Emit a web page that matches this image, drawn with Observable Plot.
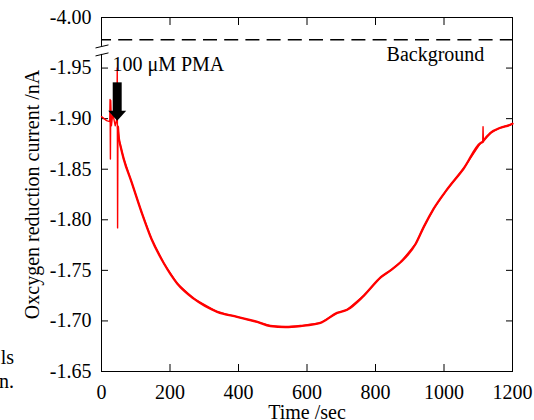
<!DOCTYPE html>
<html>
<head>
<meta charset="utf-8">
<script src="https://cdn.jsdelivr.net/npm/d3@7"></script>
<script src="https://cdn.jsdelivr.net/npm/@observablehq/plot@0.6"></script>
<style>
  html, body { margin: 0; padding: 0; background: white; }
</style>
</head>
<body>
<div id="chart"></div>
<script>
// ---- data ----
const times = [0, 15, 24, 25, 26, 27, 29, 33, 40, 45,
  46, 47, 48, 50.5, 55.5, 65, 87.6, 116.8, 146, 182,
  221, 269.5, 338, 396, 455, 493, 537, 581, 639, 688,
  717, 766, 815, 844, 873, 917, 941, 970, 1009, 1058,
  1107, 1113, 1114, 1115, 1136, 1165, 1194, 1200];
const currents = [-1.902, -1.898, -1.897, -1.919, -1.860, -1.918, -1.893, -1.905, -1.893, -1.900,
  -1.950, -1.792, -1.892, -1.881, -1.873, -1.860, -1.8375, -1.8077, -1.781, -1.757,
  -1.737, -1.722, -1.709, -1.704, -1.699, -1.695, -1.694, -1.695, -1.698, -1.708,
  -1.711, -1.725, -1.743, -1.750, -1.758, -1.776, -1.793, -1.811, -1.830, -1.851,
  -1.876, -1.877, -1.892, -1.878, -1.886, -1.891, -1.894, -1.895];
const spikeIndices = [42];
const noiseEnd = 48; // seconds: before this the trace is the thin noisy part

const backgroundLevel = [-1.978];
const xTicks = [0, 200, 400, 600, 800, 1000, 1200];
const yTicks = [-2.00, -1.95, -1.90, -1.85, -1.80, -1.75, -1.70, -1.65];
const yTickLabels = ["-4.00", "-1.95", "-1.90", "-1.85", "-1.80", "-1.75", "-1.70", "-1.65"];

// annotation: 100 µM PMA addition arrow
const arrowTime = 47.3;
const arrowTail = -1.9354, arrowHeadBase = -1.9072, arrowTip = -1.8973;
const shaftHalf = 13.1, headHalf = 26.3;

// axis break on the y axis
const breakLow = -1.9635, breakHigh = -1.9714;

const data = times.map((t, i) => ({t, v: currents[i], spike: spikeIndices.includes(i)}));
const smooth = data.filter(d => d.t >= noiseEnd && !d.spike);

const headData = [
  {t: arrowTime - headHalf, y1: arrowHeadBase, y2: arrowHeadBase},
  {t: arrowTime, y1: arrowHeadBase, y2: arrowTip},
  {t: arrowTime + headHalf, y1: arrowHeadBase, y2: arrowHeadBase}
];
const breakMarks = [
  {x1: -17.5, x2: 20.4, y1: breakLow + 0.0015, y2: breakLow - 0.0015},
  {x1: -17.5, x2: 20.4, y1: breakHigh + 0.0015, y2: breakHigh - 0.0015}
];

const font = "'Liberation Serif', 'Times New Roman', serif";

const chart = Plot.plot({
  width: 534,
  height: 420,
  marginLeft: 101,
  marginRight: 22,
  marginTop: 17,
  marginBottom: 49,
  style: {fontFamily: font, fontSize: "20px", background: "white", color: "black", overflow: "visible"},
  x: {domain: [0, 1200], label: null},
  y: {domain: [-1.65, -2.00], label: null},
  marks: [
    // frame (with a gap for the axis break)
    Plot.ruleX([0], {y1: -1.65, y2: breakLow, stroke: "black"}),
    Plot.ruleX([0], {y1: breakHigh, y2: -2.00, stroke: "black"}),
    Plot.ruleX([1200], {y1: -1.65, y2: -2.00, stroke: "black"}),
    Plot.ruleY([-1.65], {x1: 0, x2: 1200, stroke: "black"}),
    Plot.ruleY([-2.00], {x1: 0, x2: 1200, stroke: "black"}),
    Plot.link(breakMarks, {x1: "x1", x2: "x2", y1: "y1", y2: "y2", stroke: "black", strokeWidth: 1}),
    // inward ticks
    Plot.axisY(yTicks, {anchor: "left", tickSize: -7, fill: "none", label: null, stroke: "black"}),
    Plot.axisY(yTicks, {anchor: "right", tickSize: -7, fill: "none", label: null, stroke: "black"}),
    Plot.axisX(xTicks, {anchor: "bottom", tickSize: -7, fill: "none", label: null, stroke: "black"}),
    Plot.axisX(xTicks, {anchor: "top", tickSize: -7, fill: "none", label: null, stroke: "black"}),
    // tick labels
    Plot.axisY(yTicks, {anchor: "left", tickSize: 0, tickPadding: 10, label: null, fill: "black",
      tickFormat: d => yTickLabels[yTicks.indexOf(d)], fontSize: 20}),
    Plot.axisX(xTicks, {anchor: "bottom", tickSize: 0, tickPadding: 13, label: null, fill: "black",
      tickFormat: d => String(d), fontSize: 20}),
    // background level
    Plot.ruleY(backgroundLevel, {stroke: "black", strokeWidth: 1.5, strokeDasharray: "14,7.2", strokeDashoffset: 4}),
    Plot.text(["Background"], {x: 975, y: -1.963, text: d => d, fill: "black", fontSize: 20}),
    // trace
    Plot.line(data, {x: "t", y: "v", stroke: "#ff0000", strokeWidth: 1.4}),
    Plot.line(smooth, {x: "t", y: "v", stroke: "#ff0000", strokeWidth: 2.3, curve: "monotone-x"}),
    // arrow + annotation
    Plot.rect([0], {x1: arrowTime - shaftHalf, x2: arrowTime + shaftHalf, y1: arrowTail, y2: arrowHeadBase + 0.001, fill: "black"}),
    Plot.areaY(headData, {x: "t", y1: "y1", y2: "y2", fill: "black"}),
    Plot.text(["100 μM PMA"], {x: 32, y: -1.9533, text: d => d, textAnchor: "start", fill: "black", fontSize: 20}),
    // axis titles
    Plot.text(["Oxcygen reduction current /nA"], {frameAnchor: "left", dx: -68.5, rotate: -90, textAnchor: "middle", lineAnchor: "middle", text: d => d, fill: "black", fontSize: 20}),
    Plot.text(["Time /sec"], {frameAnchor: "bottom", dy: 40.6, textAnchor: "middle", lineAnchor: "middle", text: d => d, fill: "black", fontSize: 20}),
    // clipped fragments of a neighbouring caption
    Plot.text(["ls"], {frameAnchor: "bottom-left", dx: -87.5, dy: -8, lineAnchor: "bottom", textAnchor: "end", text: d => d, fill: "black", fontSize: 20}),
    Plot.text(["n."], {frameAnchor: "bottom-left", dx: -87.5, dy: 16, lineAnchor: "bottom", textAnchor: "end", text: d => d, fill: "black", fontSize: 20})
  ]
});
document.getElementById("chart").appendChild(chart);
</script>
</body>
</html>
